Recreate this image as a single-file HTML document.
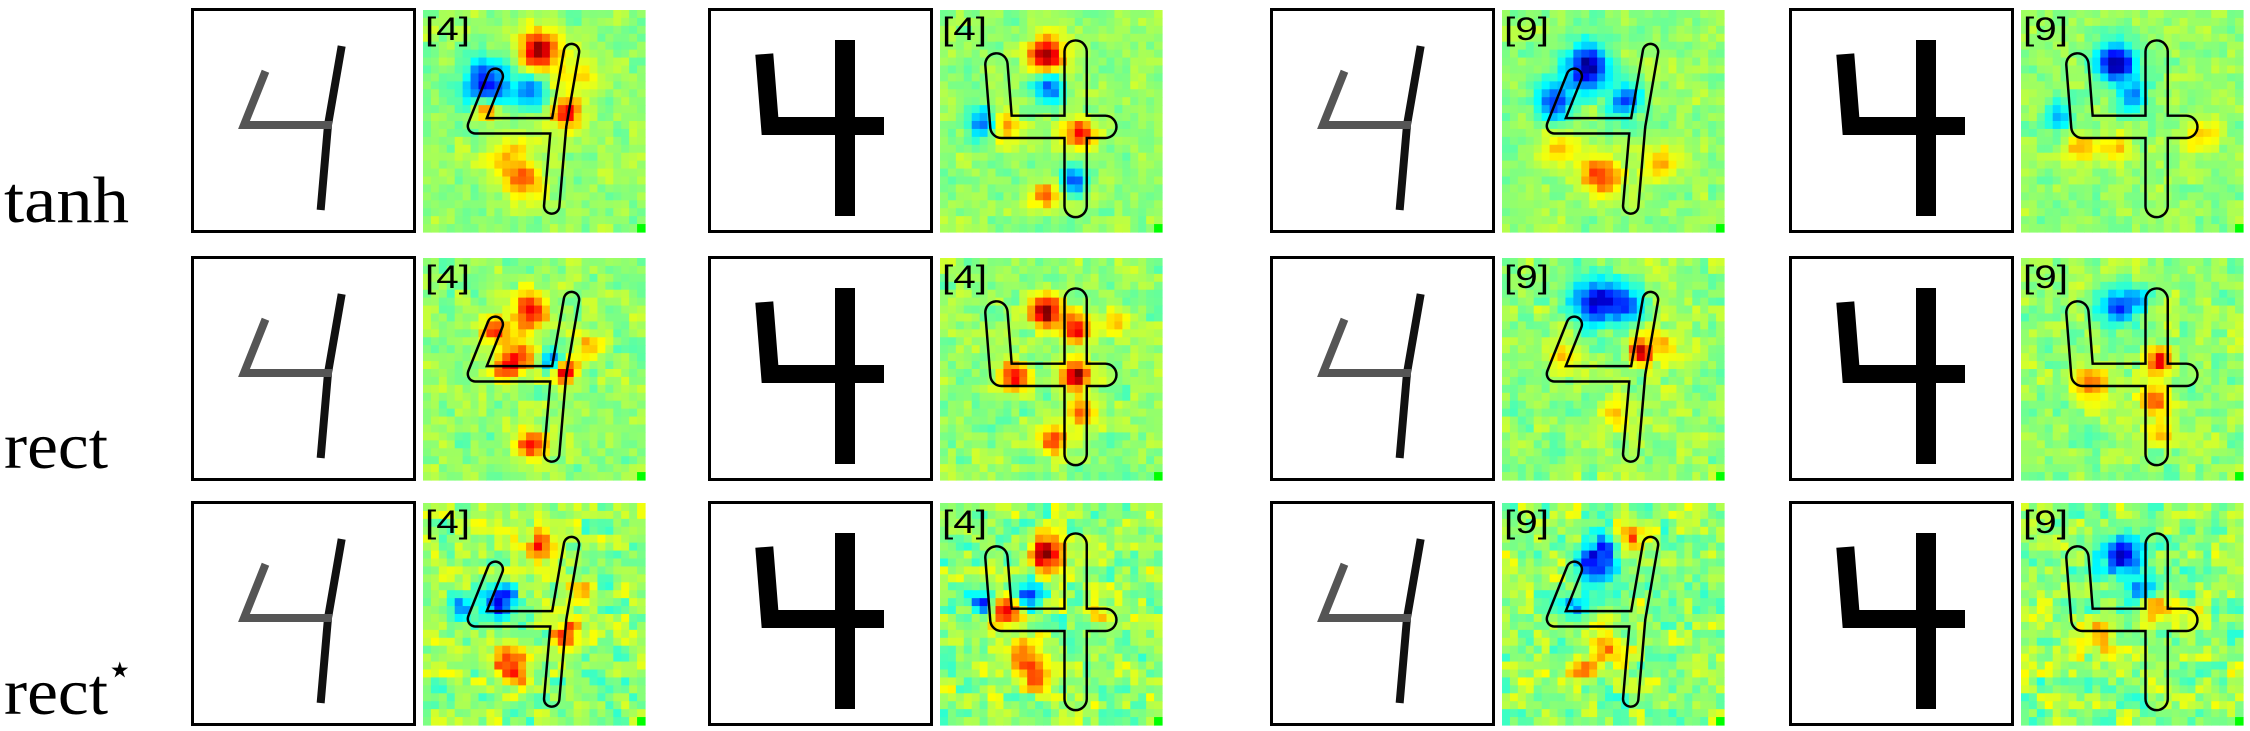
<!DOCTYPE html>
<html><head><meta charset="utf-8"><style>
html,body{margin:0;padding:0;background:#fff;width:2250px;height:731px;overflow:hidden}
</style></head><body>
<svg id="fig" width="2250" height="731" viewBox="0 0 2250 731" xmlns="http://www.w3.org/2000/svg">
<text x="4" y="222" font-family="Liberation Serif, serif" font-size="66" textLength="125" lengthAdjust="spacingAndGlyphs">tanh</text>
<text x="4" y="468" font-family="Liberation Serif, serif" font-size="66" textLength="104" lengthAdjust="spacingAndGlyphs">rect</text>
<text x="4" y="714" font-family="Liberation Serif, serif" font-size="66" textLength="104" lengthAdjust="spacingAndGlyphs">rect</text>
<text x="106" y="684" font-family="DejaVu Sans, sans-serif" font-size="44">⋆</text>
</svg>
<script>
const NS='http://www.w3.org/2000/svg';
const svg=document.getElementById('fig');
const boxX=[191,708,1270,1789];
const rowY=[8,256,501];
const digitType=['thin','thick','thin','thick'];
const classLabels=['[4]','[4]','[9]','[9]'];
// blobs: [col,row,value(-1..1),radius] per row, per panel
const blobsTanh=[
 [[14.5,5,0.9,1.5],[8,9.5,-0.8,2],[13.5,10.5,-0.6,1.2],[8,12.5,0.7,1],[18,13,0.7,1.2],[11,19,0.4,2],[13,22,0.4,1.5],[19,8,0.25,2]],
 [[13.4,5.7,1.0,1.4],[13.6,9.7,-0.7,1.3],[5.5,14.3,-0.6,1.3],[8,14.7,0.5,1.3],[17.7,15.5,0.8,1.2],[16.9,21.4,-0.6,1.2],[13.5,23.5,0.5,1.2]],
 [[10.8,7.1,-1.0,1.8],[6.6,11.5,-0.7,1.6],[15.5,11.5,-0.7,1.3],[12.5,20.8,0.6,1.6],[20,19.5,0.4,1.3],[7.5,17.4,0.3,1.5]],
 [[11.9,6.7,-1.0,1.6],[14,11,-0.5,1.2],[4.7,13.4,-0.4,1.3],[7.7,17.6,0.4,1.3],[22.9,16,0.35,1.3],[12,17.6,0.3,1.3]]
];
const blobsRect=[
 [[13.5,6.7,0.7,1.5],[9,9,0.6,1.2],[12,12.5,0.6,1.5],[16.4,13.1,-0.7,1],[17.9,14.3,0.9,1],[21,11,0.4,1],[13.5,23.6,0.8,1.2],[10,14,0.5,1]],
 [[13.3,6.7,1.0,1.3],[17.2,9,0.8,1.2],[9.4,14.9,0.8,1.2],[17.2,14.9,0.9,1.2],[18,19.5,0.5,1.2],[14.3,23,0.6,1.1],[22,8,0.35,1]],
 [[12,5.5,-0.85,2],[16,6,-0.5,1.5],[17.5,12,0.8,1],[8,12,0.3,1.5],[14,20,0.3,1.5],[20,11,0.3,1.5]],
 [[12,6,-0.7,1.5],[15,5,-0.5,1],[17.5,13,0.8,1.2],[17,18,0.6,1.2],[9,16,0.5,1.5],[18,22,0.4,1]]
];
const blobsRectStar=[
 [[9.7,12.4,-0.8,1.4],[14.5,6,0.6,1.4],[17.9,16.5,0.6,1.1],[10.6,19.4,0.6,1.2],[11.6,21.7,0.6,1.2],[4.8,13,-0.5,1.2],[20,11,0.3,1]],
 [[13.3,6.5,1.0,1.4],[8.5,13.5,0.8,1.3],[5.6,12.4,-0.6,1.1],[11,11.8,-0.6,1.1],[10.4,19.4,0.6,1.3],[12.3,22.3,0.5,1.2],[20,14,0.4,1]],
 [[12,7,-0.8,1.8],[16,4.5,0.5,1],[9,13,-0.4,1.3],[13,18,0.4,1.5],[10,21,0.35,1.2]],
 [[12.5,6.5,-0.9,1.6],[15,11,-0.4,1.2],[17,13,0.4,1],[10,17,0.4,1.5],[21,14,0.3,1]]
];
const allBlobs=[blobsTanh,blobsRect,blobsRectStar];
const noiseAmp=[0.09,0.11,0.17];

function el(tag,attrs,parent){const e=document.createElementNS(NS,tag);for(const k in attrs)e.setAttribute(k,attrs[k]);(parent||svg).appendChild(e);return e;}
function cl(x){return Math.max(0,Math.min(1,x));}
function jet(t){t=cl(t);const r=cl(1.5-Math.abs(4*t-3)),g=cl(1.5-Math.abs(4*t-2)),b=cl(1.5-Math.abs(4*t-1));
 return 'rgb('+Math.round(r*255)+','+Math.round(g*255)+','+Math.round(b*255)+')';}
function hash(a,b,c){let h=(a*374761393+b*668265263+c*2147483647)|0;h=(h^(h>>>13))*1274126177|0;h=h^(h>>>16);return ((h>>>0)%10000)/10000-0.5;}

const thinStem='M150,42 L137,117 L130,198';
const thinArm='M73,67 L53,117 L137,117';
const thickStem='M137,42 L137,198';
const thickArm='M57,55 L62,118 L167,118';

let maskId=0;
for(let r=0;r<3;r++){
 for(let p=0;p<4;p++){
  const bx=boxX[p], by=rowY[r];
  const g=el('g',{});
  
  
  const box=el('rect',{x:bx+1.5,y:by+1.5,width:222,height:222,fill:'#fff',stroke:'#000','stroke-width':3},g);
  
  
  const thick=digitType[p]==='thick';
  const dg=el('g',{transform:'translate('+bx+','+by+')'},g);
  
  
  if(thick){
   el('path',{d:thickStem,fill:'none',stroke:'#000','stroke-width':20,'stroke-linecap':'square'},dg);
   el('path',{d:thickArm,fill:'none',stroke:'#000','stroke-width':18,'stroke-linecap':'square','stroke-linejoin':'miter'},dg);
  }else{
   el('path',{d:thinStem,fill:'none',stroke:'#111','stroke-width':8,'stroke-linecap':'square'},dg);
   el('path',{d:thinArm,fill:'none',stroke:'#555','stroke-width':8,'stroke-linecap':'square'},dg);
  }
  const hx=bx+232, hy=by+2, cell=222/28;
  const hg=el('g',{},g);
  
  
  const blobs=allBlobs[r][p];
  for(let i=0;i<28;i++)for(let j=0;j<28;j++){
   let v=0.04+noiseAmp[r]*(hash(i,j,r*4+p+1)+hash(i>>1,j>>1,r*4+p+7))*1.4;
   for(const b of blobs){const rr=b[3]*1.5;const d2=((j+0.5-b[0])**2+(i+0.5-b[1])**2)/(rr*rr);v+=b[2]*Math.exp(-d2);}
   let col=jet((v+1)/2);
   if(i===27&&j===27)col='#00ff00';
   el('rect',{x:(hx+j*cell).toFixed(2),y:(hy+i*cell).toFixed(2),width:(cell+0.6).toFixed(2),height:(cell+0.6).toFixed(2),fill:col},hg);
  }
  const mid='m'+(maskId++);
  const w=thick?20:13;
  const m=el('mask',{id:mid,maskUnits:'userSpaceOnUse',x:0,y:0,width:2250,height:731},g);
  el('rect',{x:0,y:0,width:2250,height:731,fill:'#fff'},m);
  const tr='translate('+(hx)+','+(hy)+') scale(0.99)';
  const stem=thick?thickStem:thinStem, arm=thick?thickArm:thinArm;
  el('path',{d:stem,fill:'none',stroke:'#000','stroke-width':w,'stroke-linecap':'round','stroke-linejoin':'round',transform:tr},m);
  el('path',{d:arm,fill:'none',stroke:'#000','stroke-width':w,'stroke-linecap':'round','stroke-linejoin':'round',transform:tr},m);
  const cg=el('g',{mask:'url(#'+mid+')'},g);
  
  
  el('path',{d:stem,fill:'none',stroke:'#000','stroke-width':w+5,'stroke-linecap':'round','stroke-linejoin':'round',transform:tr},cg);
  el('path',{d:arm,fill:'none',stroke:'#000','stroke-width':w+5,'stroke-linecap':'round','stroke-linejoin':'round',transform:tr},cg);
  const t=el('text',{x:hx+2,y:hy+30,'font-family':'Liberation Sans, sans-serif','font-size':32,textLength:45,lengthAdjust:'spacingAndGlyphs',fill:'#000'},g);
  t.textContent=classLabels[p];
  
  
 }
}
</script>
</body></html>
